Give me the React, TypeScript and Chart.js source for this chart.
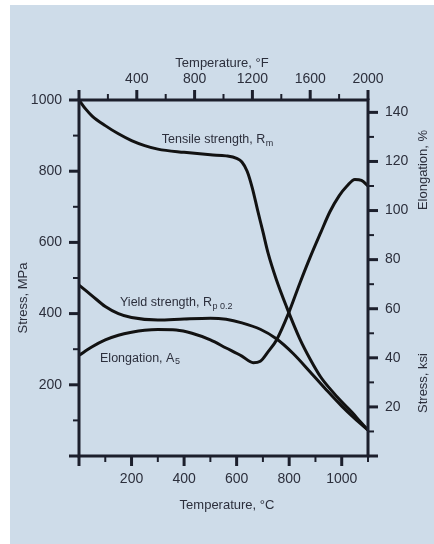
import { useEffect, useRef } from 'react';
import { Chart, registerables } from 'chart.js';

Chart.register(...registerables);

const W = 434;
const H = 544;

// Tensile strength Rm (°C, MPa)
const TENSILE_T = [0, 25, 50, 100, 150, 200, 250, 300, 400, 500, 560, 600, 620, 640, 660, 680, 700, 720, 750, 790, 840, 880, 920, 960, 1000, 1040, 1070, 1100];
const TENSILE_MPA = [1000, 975, 955, 928, 905, 886, 872, 862, 853, 846, 843, 836, 826, 800, 752, 690, 630, 569, 498, 419, 330, 272, 222, 185, 152, 122, 97, 73];

// Yield strength Rp0.2 (°C, MPa)
const YIELD_T = [0, 50, 100, 150, 200, 300, 400, 500, 560, 620, 690, 750, 815, 880, 940, 1000, 1050, 1100];
const YIELD_MPA = [480, 450, 420, 400, 389, 382, 385, 387, 384, 374, 356, 330, 288, 236, 187, 140, 105, 73];

// Elongation A5 (°C, %)
const ELONG_T = [0, 50, 100, 150, 200, 250, 300, 370, 430, 500, 560, 620, 663, 690, 720, 752, 797, 841, 880, 920, 955, 990, 1020, 1050, 1075, 1100];
const ELONG_PCT = [41, 44.5, 47.3, 49.2, 50.4, 51.2, 51.5, 51.3, 50, 47.3, 44, 40.7, 38, 38.6, 42.5, 47.3, 58, 70.5, 81, 91, 99.5, 106, 110, 112.7, 112.3, 110];

// Tick labels
const BOTTOM_LABELS = [200, 400, 600, 800, 1000];
const TOP_LABELS = [400, 800, 1200, 1600, 2000];
const LEFT_LABELS = [200, 400, 600, 800, 1000];
const RIGHT_LABELS = [20, 40, 60, 80, 100, 120, 140];

// Axis ranges
const C_MAX = 1100;
const F_MAX = 2000;
const MPA_MAX = 1000;
const KSI_MAX = 145.04;

// Curve annotations (anchor in °C / MPa)
const CURVE_LABELS = [
  { text: 'Tensile strength, R', sub: 'm', t: 315, mpa: 888 },
  { text: 'Yield strength, R', sub: 'p 0.2', t: 156, mpa: 431 },
  { text: 'Elongation, A', sub: '5', t: 80, mpa: 275 },
];

const FONT = '"Liberation Sans", Arial, Helvetica, sans-serif';
const TEXT = '#2c2f3c';
const AXIS = '#1c1f2c';
const CURVE = '#121212';
const BG = '#cedce9';

const pair = (xs: number[], ys: number[]) => xs.map((x, i) => ({ x, y: ys[i] }));

const decor = {
  id: 'decor',
  beforeDraw(chart: any) {
    const ctx = chart.ctx;
    ctx.save();
    ctx.fillStyle = '#ffffff';
    ctx.fillRect(0, 0, W, H);
    ctx.fillStyle = BG;
    ctx.fillRect(10, 5, W - 10, H - 5);
    ctx.restore();
  },
  afterDraw(chart: any) {
    const ctx = chart.ctx;
    const { left, right, top, bottom } = chart.chartArea;
    ctx.save();
    ctx.strokeStyle = AXIS;
    ctx.lineWidth = 3;
    ctx.lineJoin = 'miter';
    ctx.strokeRect(left, top, right - left, bottom - top);

    const drawTicks = (id: string, side: string, majorStep: number) => {
      const s = chart.scales[id];
      s.ticks.forEach((tk: any) => {
        const v = tk.value;
        const major = Math.abs(v / majorStep - Math.round(v / majorStep)) < 1e-6;
        const len = major ? 10 : 6;
        ctx.lineWidth = major ? 3 : 2;
        const p = s.getPixelForValue(v);
        ctx.beginPath();
        if (side === 'bottom') { ctx.moveTo(p, bottom); ctx.lineTo(p, bottom + len); }
        if (side === 'top') { ctx.moveTo(p, top); ctx.lineTo(p, top - len); }
        if (side === 'left') { ctx.moveTo(left, p); ctx.lineTo(left - len, p); }
        if (side === 'right') { ctx.moveTo(right, p); ctx.lineTo(right + len, p); }
        ctx.stroke();
      });
    };
    drawTicks('x', 'bottom', 200);
    drawTicks('x2', 'top', 400);
    drawTicks('y', 'left', 200);
    drawTicks('y2', 'right', 20);

    // axis titles
    ctx.fillStyle = TEXT;
    ctx.font = `13px ${FONT}`;
    ctx.textAlign = 'center';
    ctx.textBaseline = 'middle';
    ctx.fillText('Temperature, °F', 222, 63);
    ctx.fillText('Temperature, °C', 227, 505);
    const vText = (t: string, x: number, y: number) => {
      ctx.save();
      ctx.translate(x, y);
      ctx.rotate(-Math.PI / 2);
      ctx.fillText(t, 0, 0);
      ctx.restore();
    };
    vText('Stress, MPa', 23, 298);
    vText('Elongation, %', 423, 170);
    vText('Stress, ksi', 423, 383);

    // curve labels
    const sx = chart.scales.x;
    const sy = chart.scales.y;
    ctx.textAlign = 'left';
    CURVE_LABELS.forEach((l) => {
      const x = sx.getPixelForValue(l.t);
      const y = sy.getPixelForValue(l.mpa);
      ctx.font = `12.5px ${FONT}`;
      ctx.fillText(l.text, x, y);
      const w = ctx.measureText(l.text).width;
      ctx.font = `9px ${FONT}`;
      ctx.fillText(l.sub, x + w + 0.5, y + 3.5);
    });
    ctx.restore();
  },
};

const tickFont = { family: FONT, size: 14 };

export default function App() {
  const ref = useRef<HTMLCanvasElement | null>(null);
  useEffect(() => {
    if (!ref.current) return;
    const chart = new Chart(ref.current, {
      type: 'line',
      data: {
        datasets: [
          { label: 'Tensile strength', data: pair(TENSILE_T, TENSILE_MPA), xAxisID: 'x', yAxisID: 'y', borderColor: CURVE },
          { label: 'Yield strength', data: pair(YIELD_T, YIELD_MPA), xAxisID: 'x', yAxisID: 'y', borderColor: CURVE },
          { label: 'Elongation', data: pair(ELONG_T, ELONG_PCT), xAxisID: 'x', yAxisID: 'y2', borderColor: CURVE },
        ],
      },
      options: {
        responsive: false,
        animation: false,
        devicePixelRatio: 1,
        layout: { padding: 0 },
        plugins: { legend: { display: false }, tooltip: { enabled: false }, title: { display: false } },
        elements: {
          point: { radius: 0 },
          line: { borderWidth: 3, cubicInterpolationMode: 'monotone', fill: false },
        },
        scales: {
          x: {
            type: 'linear', axis: 'x', position: 'bottom', min: 0, max: C_MAX,
            afterFit: (s: any) => { s.height = H - 456; },
            grid: { display: false, drawTicks: false }, border: { display: false },
            ticks: {
              stepSize: 100, autoSkip: false, maxRotation: 0, padding: 15, font: tickFont, color: TEXT,
              callback: (v: any) => (BOTTOM_LABELS.includes(Number(v)) ? String(v) : ''),
            },
          },
          x2: {
            type: 'linear', axis: 'x', position: 'top', min: 0, max: F_MAX,
            afterFit: (s: any) => { s.height = 100; },
            grid: { display: false, drawTicks: false }, border: { display: false },
            ticks: {
              stepSize: 200, autoSkip: false, maxRotation: 0, padding: 12, font: tickFont, color: TEXT,
              callback: (v: any) => (TOP_LABELS.includes(Number(v)) ? String(v) : ''),
            },
          },
          y: {
            type: 'linear', axis: 'y', position: 'left', min: 0, max: MPA_MAX,
            afterFit: (s: any) => { s.width = 79; },
            grid: { display: false, drawTicks: false }, border: { display: false },
            ticks: {
              stepSize: 100, autoSkip: false, padding: 17, font: tickFont, color: TEXT,
              callback: (v: any) => (LEFT_LABELS.includes(Number(v)) ? String(v) : ''),
            },
          },
          y2: {
            type: 'linear', axis: 'y', position: 'right', min: 0, max: KSI_MAX,
            afterFit: (s: any) => { s.width = W - 368; },
            grid: { display: false, drawTicks: false }, border: { display: false },
            ticks: {
              stepSize: 10, autoSkip: false, includeBounds: false, padding: 17, font: tickFont, color: TEXT,
              callback: (v: any) => (RIGHT_LABELS.includes(Math.round(Number(v))) ? String(Math.round(Number(v))) : ''),
            },
          },
        },
      } as any,
      plugins: [decor],
    });
    return () => chart.destroy();
  }, []);

  return (
    <div style={{ position: 'absolute', left: 0, top: 0, width: W, height: H }}>
      <canvas ref={ref} width={W} height={H} style={{ display: 'block', width: W, height: H }} />
    </div>
  );
}
